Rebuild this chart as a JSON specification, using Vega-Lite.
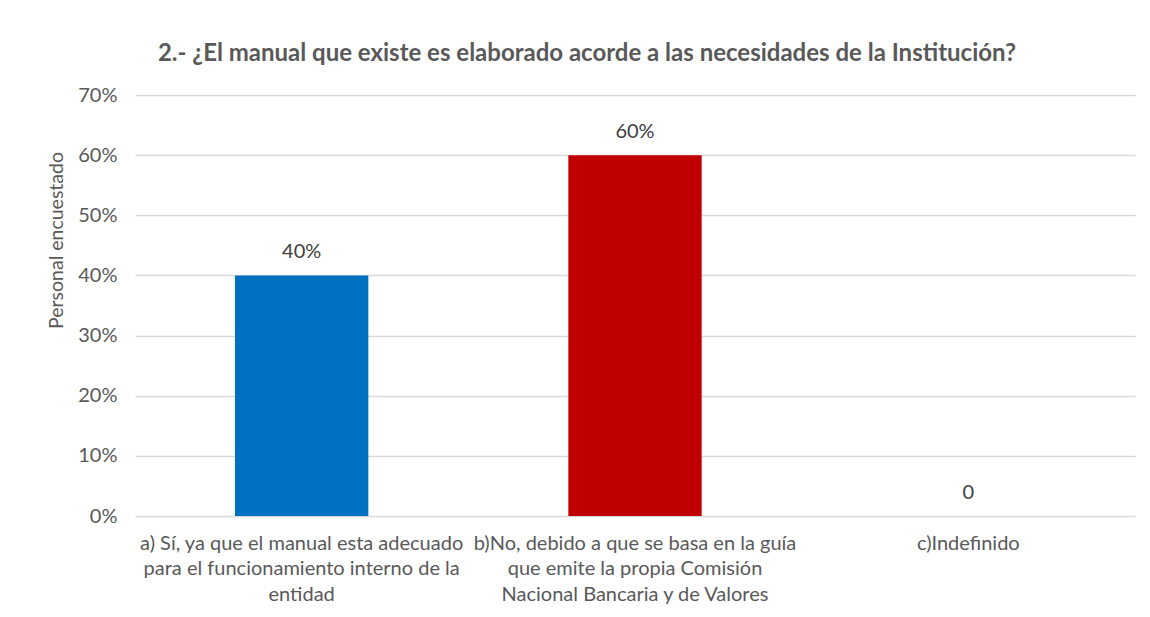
{
  "$schema": "https://vega.github.io/schema/vega-lite/v6.json",
  "width": 1000,
  "height": 421,
  "autosize": {"type": "none"},
  "padding": {"left": 135, "top": 95, "right": 15, "bottom": 101},
  "background": "white",
  "title": {
    "text": "2.- ¿El manual que existe es elaborado acorde a las necesidades de la Institución?",
    "anchor": "middle",
    "frame": "group",
    "dx": -48,
    "offset": 19,
    "font": "Lato",
    "fontSize": 24,
    "fontWeight": "bold",
    "color": "#595959"
  },
  "data": {
    "values": [
      {"categoria": "a) Sí, ya que el manual esta adecuado|para el funcionamiento interno de la|entidad", "valor": 0.4, "etiqueta": "40%", "color": "#0070C0"},
      {"categoria": "b)No, debido a que se basa en la guía|que emite la propia Comisión|Nacional Bancaria y de Valores", "valor": 0.6, "etiqueta": "60%", "color": "#C00000"},
      {"categoria": "c)Indefinido", "valor": 0, "etiqueta": "0", "color": "#FFFFFF"}
    ]
  },
  "encoding": {
    "x": {
      "field": "categoria",
      "type": "nominal",
      "sort": null,
      "scale": {"paddingInner": 0.6, "paddingOuter": 0.3},
      "axis": {
        "title": null,
        "labelAngle": 0,
        "labelExpr": "split(datum.label, '|')",
        "labelFont": "Lato",
        "labelFontSize": 20,
        "labelColor": "#595959",
        "labelLineHeight": 25.5,
        "labelPadding": 17,
        "labelLimit": 400,
        "ticks": false,
        "domain": false
      }
    },
    "y": {
      "field": "valor",
      "type": "quantitative",
      "scale": {"domain": [0, 0.7]},
      "axis": {
        "title": "Personal encuestado",
        "titleFont": "Lato",
        "titleFontSize": 19.5,
        "titleFontWeight": "normal",
        "titleColor": "#595959",
        "titleY": 145,
        "titlePadding": 11,
        "format": ".0%",
        "values": [0, 0.1, 0.2, 0.3, 0.4, 0.5, 0.6, 0.7],
        "labelFont": "Lato",
        "labelFontSize": 20,
        "labelColor": "#595959",
        "labelPadding": 18,
        "ticks": false,
        "domain": false,
        "grid": true,
        "gridColor": "#D9D9D9",
        "gridWidth": 1.3
      }
    }
  },
  "layer": [
    {
      "mark": {"type": "bar"},
      "encoding": {
        "color": {"field": "color", "type": "nominal", "scale": null}
      }
    },
    {
      "mark": {"type": "text", "baseline": "alphabetic", "dy": -17, "font": "Lato", "fontSize": 20, "color": "#404040"},
      "encoding": {
        "text": {"field": "etiqueta", "type": "nominal"}
      }
    }
  ],
  "config": {"view": {"stroke": null}}
}
